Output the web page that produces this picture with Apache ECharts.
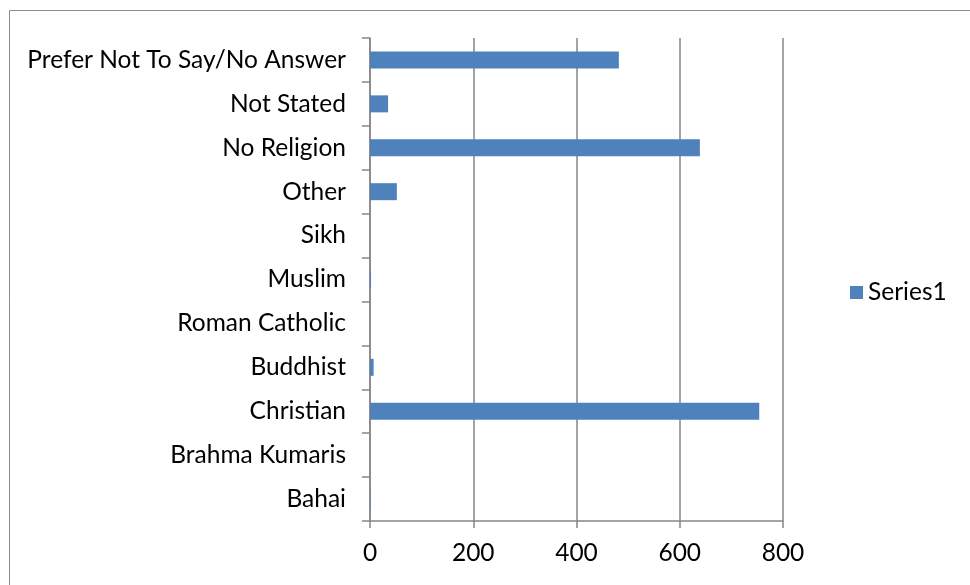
<!DOCTYPE html>
<html>
<head>
<meta charset="utf-8">
<script src="https://cdn.jsdelivr.net/npm/echarts@6/dist/echarts.min.js"></script>
<style>
  html, body { margin: 0; padding: 0; background: #fff; }
  #chart { width: 970px; height: 585px; }
</style>
</head>
<body>
<div id="chart"></div>
<script>
// categories bottom to top, as on the chart
var categories = ['Bahai', 'Brahma Kumaris', 'Christian', 'Buddhist', 'Roman Catholic',
    'Muslim', 'Sikh', 'Other', 'No Religion', 'Not Stated', 'Prefer Not To Say/No Answer'];
var series1 = [1, 0, 754, 7, 0, 2, 0, 52, 639, 35, 482];
var xTicks = [0, 200, 400, 600, 800];

var fontFam = 'Lato, Open Sans, sans-serif';
var chart = echarts.init(document.getElementById('chart'));

chart.setOption({
    animation: false,
    textStyle: { fontFamily: fontFam },
    graphic: [{
        type: 'rect',
        shape: { x: 9.5, y: 10.5, width: 980, height: 600 },
        style: { fill: 'none', stroke: '#8c8c8c', lineWidth: 1 }
    }],
    grid: { left: 370, right: 187, top: 38, bottom: 64, containLabel: false },
    legend: {
        orient: 'vertical',
        left: 845,
        top: 'middle',
        itemWidth: 13,
        itemHeight: 13,
        itemGap: 6,
        icon: 'rect',
        textStyle: { fontSize: 24.5, color: '#000', fontFamily: fontFam },
        data: ['Series1']
    },
    xAxis: {
        type: 'value',
        min: xTicks[0],
        max: xTicks[xTicks.length - 1],
        interval: 200,
        axisLine: { show: true, lineStyle: { color: '#868686', width: 1.5 } },
        axisTick: { show: true, length: 7, lineStyle: { color: '#868686', width: 1.5 } },
        splitLine: { show: true, lineStyle: { color: '#868686', width: 1.5 } },
        axisLabel: { fontSize: 24.5, color: '#000', margin: 20, fontFamily: fontFam }
    },
    yAxis: {
        type: 'category',
        data: categories,
        axisLine: { show: true, lineStyle: { color: '#868686', width: 1.5 } },
        axisTick: { show: true, length: 8, alignWithLabel: false, lineStyle: { color: '#868686', width: 1.5 } },
        axisLabel: { fontSize: 24.5, color: '#000', margin: 24, fontFamily: fontFam }
    },
    series: [{
        name: 'Series1',
        type: 'bar',
        data: series1,
        barWidth: 17,
        itemStyle: { color: '#4f81bd' }
    }]
});
</script>
</body>
</html>
